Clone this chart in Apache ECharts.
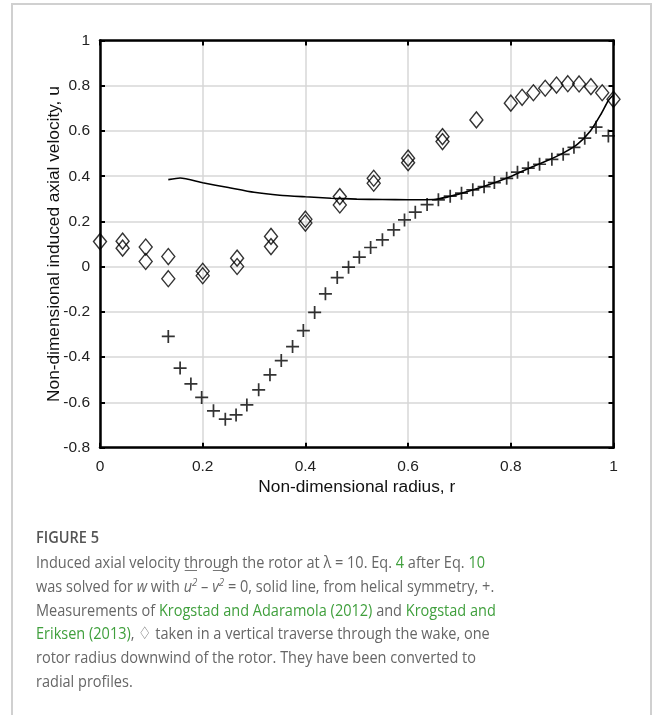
<!DOCTYPE html>
<html>
<head>
<meta charset="utf-8">
<script src="https://cdn.jsdelivr.net/npm/echarts@6/dist/echarts.min.js"></script>
<style>
  html, body { margin:0; padding:0; background:#fff; }
  #frame { position:absolute; left:11px; top:3px; width:641px; height:730px; border:2px solid #d0d0d0; box-sizing:border-box; }
  #chart { position:absolute; left:0; top:0; width:654px; height:715px; }
  #fig { position:absolute; left:36px; top:527px; font-family:"Open Sans", sans-serif; font-weight:600; font-size:17px; line-height:20px; color:#555; white-space:nowrap; transform-origin:0 0; }
  #cap { position:absolute; left:36px; top:550px; font-family:"Open Sans", sans-serif; font-weight:400; font-size:16.5px; line-height:23.8px; color:#666; white-space:nowrap; transform-origin:0 0; }
  #cap .g { color:#3f9f3c; }
  #cap .ol { position:relative; font-style:italic; }
  #cap .ol::before { content:""; position:absolute; left:1px; right:0; top:-4px; border-top:1px solid #777; }
  #cap sup { font-size:11px; line-height:0; vertical-align:6px; }
</style>
</head>
<body>
<div id="frame"></div>
<div id="chart"></div>
<div id="fig"><span id="figw">FIGURE 5</span></div>
<div id="cap">
<div><span id="line1">Induced axial velocity through the rotor at λ = 10. Eq. <span class="g">4</span> after Eq. <span class="g">10</span></span></div>
<div>was solved for <i>w</i> with <span class="ol">u<sup>2</sup></span> – <span class="ol">v<sup>2</sup></span> = 0, solid line, from helical symmetry, +.</div>
<div>Measurements of <span class="g">Krogstad and Adaramola (2012)</span> and <span class="g">Krogstad and</span></div>
<div><span class="g">Eriksen (2013)</span>, ♢ taken in a vertical traverse through the wake, one</div>
<div>rotor radius downwind of the rotor. They have been converted to</div>
<div>radial profiles.</div>
</div>
<script>
// ---- data ----
const radiusTicks = [0, 0.2, 0.4, 0.6, 0.8, 1];
const velocityTicks = [-0.8, -0.6, -0.4, -0.2, 0, 0.2, 0.4, 0.6, 0.8, 1];

// solid line: solved with u^2 - v^2 = 0
const lineR = [0.133, 0.156, 0.2, 0.25, 0.3, 0.35, 0.4, 0.45, 0.5, 0.55, 0.6, 0.65, 0.68, 0.7, 0.75, 0.8, 0.84, 0.87, 0.9, 0.93, 0.955, 0.975, 0.99, 1.0];
const lineU = [0.385, 0.392, 0.371, 0.35, 0.329, 0.316, 0.309, 0.303, 0.299, 0.297, 0.296, 0.297, 0.31, 0.322, 0.357, 0.399, 0.44, 0.468, 0.5, 0.542, 0.6, 0.672, 0.735, 0.76];

// helical symmetry, +
const plusR = [0.133, 0.156, 0.177, 0.198, 0.221, 0.244, 0.265, 0.286, 0.309, 0.331, 0.353, 0.375, 0.396, 0.418, 0.439, 0.462, 0.484, 0.505, 0.527, 0.55, 0.572, 0.593, 0.614, 0.637, 0.659, 0.682, 0.704, 0.726, 0.748, 0.768, 0.792, 0.813, 0.834, 0.856, 0.88, 0.902, 0.923, 0.944, 0.966, 0.99];
const plusU = [-0.308, -0.448, -0.518, -0.578, -0.637, -0.674, -0.655, -0.611, -0.544, -0.478, -0.415, -0.353, -0.282, -0.202, -0.12, -0.048, -0.002, 0.042, 0.085, 0.119, 0.163, 0.207, 0.241, 0.275, 0.296, 0.312, 0.325, 0.34, 0.354, 0.372, 0.391, 0.418, 0.436, 0.453, 0.475, 0.497, 0.528, 0.568, 0.617, 0.578];

// measurements, diamonds (upper traverse)
const diamondR = [0, 0.044, 0.089, 0.133, 0.2, 0.267, 0.333, 0.4, 0.467, 0.533, 0.6, 0.667, 0.733, 0.8, 0.822, 0.844, 0.867, 0.889, 0.911, 0.933, 0.956, 0.978, 1.0];
const diamondU = [0.111, 0.113, 0.087, 0.045, -0.02, 0.038, 0.134, 0.21, 0.31, 0.391, 0.48, 0.575, 0.649, 0.723, 0.749, 0.769, 0.789, 0.803, 0.809, 0.808, 0.796, 0.769, 0.74];
// measurements, diamonds (lower traverse)
const diamond2R = [0.044, 0.089, 0.133, 0.2, 0.267, 0.333, 0.4, 0.467, 0.533, 0.6, 0.667];
const diamond2U = [0.082, 0.023, -0.053, -0.04, 0.001, 0.089, 0.193, 0.273, 0.369, 0.46, 0.553];

const zip = (a, b) => a.map((v, i) => [v, b[i]]);

const chart = echarts.init(document.getElementById('chart'), null, { renderer: 'canvas' });
const axisFont = 'Liberation Sans, Arial, sans-serif';
const frameLine = { show: true, onZero: false, lineStyle: { color: '#000', width: 2.5 } };
const tick = { show: true, inside: true, length: 5, lineStyle: { color: '#000', width: 2 } };
const xMin = radiusTicks[0], xMax = radiusTicks[radiusTicks.length - 1];
const yMin = velocityTicks[0], yMax = velocityTicks[velocityTicks.length - 1];

chart.setOption({
  animation: false,
  backgroundColor: 'transparent',
  grid: { left: 100, right: 40.5, top: 40.5, bottom: 267.3, containLabel: false, outerBoundsMode: 'none' },
  xAxis: [
    {
      type: 'value', position: 'bottom', min: xMin, max: xMax, interval: 0.2,
      axisLine: frameLine, axisTick: tick,
      axisLabel: { fontSize: 15.5, color: '#222', margin: 11, fontFamily: axisFont },
      splitLine: { show: true, lineStyle: { color: '#d7d7d7', width: 1.5 } },
      name: 'Non-dimensional radius, r', nameLocation: 'middle', nameGap: 31, nameMoveOverlap: false,
      nameTextStyle: { fontSize: 17.3, color: '#111', fontFamily: axisFont }
    },
    {
      type: 'value', position: 'top', min: xMin, max: xMax, interval: 0.2,
      axisLine: frameLine, axisTick: tick, axisLabel: { show: false }, splitLine: { show: false }
    }
  ],
  yAxis: [
    {
      type: 'value', position: 'left', min: yMin, max: yMax, interval: 0.2,
      axisLine: frameLine, axisTick: tick,
      axisLabel: { fontSize: 15.5, color: '#222', margin: 10, fontFamily: axisFont },
      splitLine: { show: true, lineStyle: { color: '#d7d7d7', width: 1.5 } },
      name: 'Non-dimensional induced axial velocity, u', nameLocation: 'middle', nameGap: 37.5, nameMoveOverlap: false,
      nameTextStyle: { fontSize: 17.3, color: '#111', fontFamily: axisFont }
    },
    {
      type: 'value', position: 'right', min: yMin, max: yMax, interval: 0.2,
      axisLine: frameLine, axisTick: tick, axisLabel: { show: false }, splitLine: { show: false }
    }
  ],
  series: [
    {
      name: 'u² − v² = 0', type: 'line', data: zip(lineR, lineU), showSymbol: false, smooth: 0.2,
      lineStyle: { color: '#000', width: 1.6 }, z: 3
    },
    {
      name: 'helical symmetry', type: 'scatter', data: zip(plusR, plusU),
      symbol: 'path://M5.2,0H6.8V12H5.2Z M0,5.2H12V6.8H0Z', symbolSize: 13,
      itemStyle: { color: '#000' }, z: 4, clip: false
    },
    {
      name: 'measurements', type: 'scatter', data: zip(diamondR, diamondU),
      symbol: 'diamond', symbolSize: [13, 16],
      itemStyle: { color: 'rgba(0,0,0,0)', borderColor: '#000', borderWidth: 1.4 }, z: 5, clip: false
    },
    {
      name: 'measurements 2', type: 'scatter', data: zip(diamond2R, diamond2U),
      symbol: 'diamond', symbolSize: [13, 16],
      itemStyle: { color: 'rgba(0,0,0,0)', borderColor: '#000', borderWidth: 1.4 }, z: 5, clip: false
    }
  ]
});

// fit caption widths to the reference
(function fit() {
  const l1 = document.getElementById('line1').getBoundingClientRect().width;
  if (l1 > 0) document.getElementById('cap').style.transform = 'scaleX(' + (449 / l1) + ')';
  const f = document.getElementById('figw').getBoundingClientRect().width;
  if (f > 0) document.getElementById('fig').style.transform = 'scaleX(' + (63 / f) + ')';
})();
</script>
</body>
</html>
